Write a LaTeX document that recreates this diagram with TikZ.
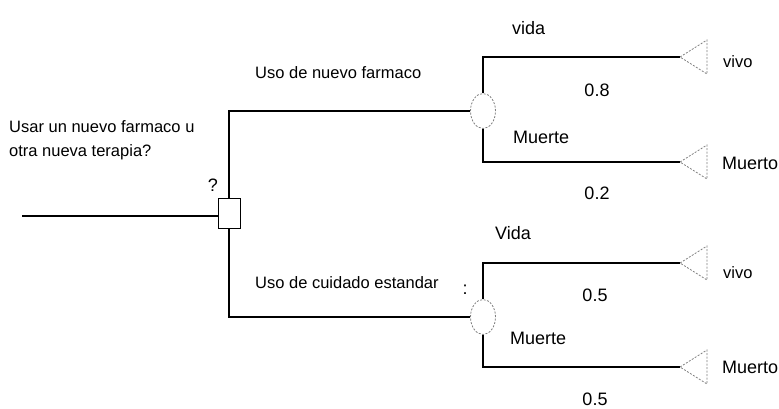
\documentclass[tikz,border=0pt]{standalone}
\usepackage{fontspec}
\setmainfont{Liberation Sans}
\usetikzlibrary{shapes.geometric}
\begin{document}
\begin{tikzpicture}[x=1pt,y=-1pt,
  branch/.style={draw=black,line width=1.6pt},
  decbox/.style={draw=black,line width=1pt,fill=white,rectangle,minimum width=22pt,minimum height=30pt,inner sep=0pt},
  chancenode/.style={draw=gray,line width=0.8pt,dash pattern=on 2pt off 1.5pt,ellipse,minimum width=25pt,minimum height=35pt,inner sep=0pt,fill=white},
  termtri/.style={draw=gray,line width=0.8pt,dash pattern=on 2pt off 1.5pt},
  lbl/.style={inner sep=0pt,anchor=west,font=\fontsize{16.5}{18}\selectfont},
  big/.style={inner sep=0pt,anchor=west,font=\fontsize{18}{20}\selectfont},
  prob/.style={inner sep=0pt,font=\fontsize{18}{20}\selectfont}]
\useasboundingbox (0,0) rectangle (779,409);

% decision and chance nodes
\node[decbox] (dec) at (229,213) {};
\node[chancenode] (c1) at (483,111) {};
\node[chancenode] (c2) at (483,317) {};

% endpoints of the tree
\coordinate (start) at (22,216);
\coordinate (t1) at (680,57);
\coordinate (t2) at (680,162);
\coordinate (t3) at (680,263);
\coordinate (t4) at (680,367);

% branches
\draw[branch] (start) -- (dec.west |- start);
\draw[branch] (dec.north) |- (c1.west);
\draw[branch] (dec.south) |- (c2.west);
\draw[branch] (c1.north) |- (t1);
\draw[branch] (c1.south) |- (t2);
\draw[branch] (c2.north) |- (t3);
\draw[branch] (c2.south) |- (t4);

% terminal triangles
\foreach \t in {t1,t2,t3,t4}{
  \draw[termtri] (\t) -- ++(27,-17) -- ++(0,34) -- cycle;
}

% question and branch labels
\node[lbl,align=left] (q) at (9,140) {Usar un nuevo farmaco u\\[6pt]otra nueva terapia?};
\node[prob] (qm) at (213,185) {?};
\node[lbl] (b1) at (255,73) {Uso de nuevo farmaco};
\node[lbl] (b2) at (255,283) {Uso de cuidado estandar};
\node[prob] (colon) at (465,290) {:};

% outcomes of the new drug
\node[big] (v1) at (512,28) {vida};
\node[prob] (p1) at (597,90) {0.8};
\node[big] (m1) at (513,137) {Muerte};
\node[prob] (p2) at (597,193) {0.2};
\node[lbl] (e1) at (723,62) {vivo};
\node[big] (e2) at (722,163) {Muerto};

% outcomes of standard care
\node[big] (v2) at (495,233) {Vida};
\node[prob] (p3) at (595,295) {0.5};
\node[big] (m2) at (510,338) {Muerte};
\node[prob] (p4) at (595,399) {0.5};
\node[lbl] (e3) at (723,273) {vivo};
\node[big] (e4) at (722,367) {Muerto};
\end{tikzpicture}
\end{document}
